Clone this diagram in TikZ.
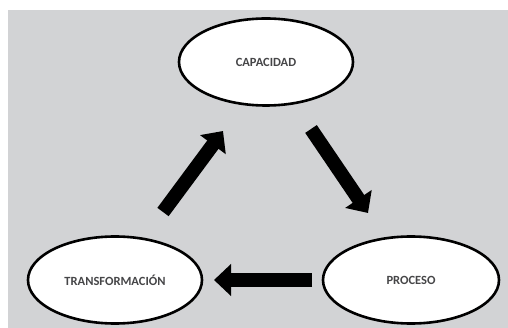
\documentclass[tikz,border=0pt]{standalone}
\usepackage{fontspec}
\setmainfont{Carlito}
\usetikzlibrary{arrows.meta,shapes.geometric}
\definecolor{bggray}{RGB}{210,211,213}
\definecolor{txtgray}{RGB}{70,70,72}
\tikzset{
  phase/.style={ellipse, draw=black, line width=2.6pt, fill=white,
    minimum width=#1, minimum height=87pt, inner sep=0pt,
    font=\bfseries\fontsize{12.5}{14}\selectfont, text=txtgray},
  blockarrow/.style={line width=14pt, draw=black,
    -{Triangle[width=31pt,length=17pt]}}
}
\begin{document}
\begin{tikzpicture}[x=1pt,y=-1pt]
\useasboundingbox (0,0) rectangle (508,328);
\fill[white] (0,0) rectangle (508,328);
\fill[bggray] (8,10) rectangle (508,328);
\node[phase=174pt] (cap) at (266,62) {CAPACIDAD};
\node[phase=174pt] (tra) at (115,280) {TRANSFORMACIÓN};
\node[phase=176pt] (pro) at (411,280) {PROCESO};
\coordinate (a1s) at (163,212);
\coordinate (a1e) at (223,131);
\coordinate (a2s) at (311,129);
\coordinate (a2e) at (368,213);
\coordinate (a3s) at (312,280);
\coordinate (a3e) at (214,280);
\draw[blockarrow] (a1s) -- (a1e);
\draw[blockarrow] (a2s) -- (a2e);
\draw[blockarrow] (a3s) -- (a3e);
\end{tikzpicture}
\end{document}
